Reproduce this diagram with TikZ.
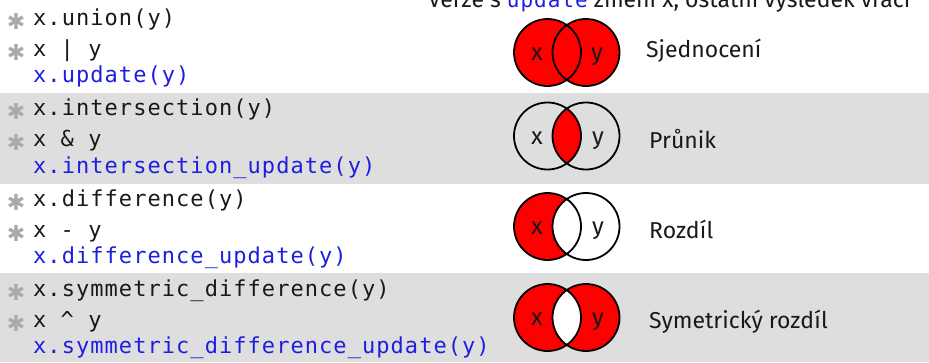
\documentclass[tikz,border=0pt]{standalone}
\usepackage{fontspec}
\setmainfont{Fira Sans}
\newfontfamily\codefont[LetterSpace=4.8]{DejaVu Sans Mono}
\newfontfamily\symfont{DejaVu Sans}
\definecolor{bandgray}{RGB}{222,222,222}
\definecolor{codeblue}{RGB}{30,30,225}
\definecolor{codeblack}{RGB}{25,25,25}
\definecolor{stargray}{RGB}{170,170,170}
\definecolor{vennred}{RGB}{255,0,0}
\begin{document}
\begin{tikzpicture}[x=1pt,y=-1pt,
  code/.style={anchor=base west, inner sep=0, font=\codefont\fontsize{22}{26}\selectfont, text=codeblack},
  upd/.style={code, text=codeblue},
  star/.style={anchor=center, inner sep=0, font=\symfont\bfseries\fontsize{22}{24}\selectfont, text=stargray},
  lab/.style={anchor=base west, inner sep=0, font=\fontsize{23}{28}\selectfont, text=codeblack},
  setlab/.style={anchor=base, inner sep=0, font=\fontsize{24}{28}\selectfont, text=codeblack},
  ring/.style={draw=black, line width=1.8pt}]
\useasboundingbox (0,0) rectangle (929,362);
\begin{scope}
\clip (0,0) rectangle (929,362);
\fill[white] (0,0) rectangle (929,362);
\fill[bandgray] (0,93) rectangle (929,184);
\fill[bandgray] (0,273) rectangle (929,362);

% title (cut off at top, as in the reference)
\node[lab] (title) at (428,7) {Verze s {\codefont\fontsize{21}{24}\selectfont\color{codeblue}update} změní x, ostatní výsledek vrací};

% row 1
\node[star] (s1a) at (16,21) {✱};
\node[star] (s1b) at (16,52) {✱};
\node[code] (c1a) at (33,25) {x.union(y)};
\node[code] (c1b) at (33,56) {x | y};
\node[upd]  (c1c) at (33,82.5) {x.update(y)};
% row 2
\node[star] (s2a) at (16,111.5) {✱};
\node[star] (s2b) at (16,142.5) {✱};
\node[code] (c2a) at (33,115.5) {x.intersection(y)};
\node[code] (c2b) at (33,146.5) {x \& y};
\node[upd]  (c2c) at (33,173) {x.intersection\_update(y)};
% row 3
\node[star] (s3a) at (16,202) {✱};
\node[star] (s3b) at (16,233) {✱};
\node[code] (c3a) at (33,206) {x.difference(y)};
\node[code] (c3b) at (33,237) {x - y};
\node[upd]  (c3c) at (33,263.5) {x.difference\_update(y)};
% row 4
\node[star] (s4a) at (16,292) {✱};
\node[star] (s4b) at (16,323) {✱};
\node[code] (c4a) at (33,296) {x.symmetric\_difference(y)};
\node[code] (c4b) at (33,327) {x \textasciicircum{} y};
\node[upd]  (c4c) at (33,353.5) {x.symmetric\_difference\_update(y)};

% Venn 1: union
\fill[vennred] (547.5,52.5) circle[radius=33.5] (586,52.5) circle[radius=33.5];
\draw[ring] (547.5,52.5) circle[radius=33.5] (586,52.5) circle[radius=33.5];
\node[setlab] (v1x) at (537,60) {x};
\node[setlab] (v1y) at (597,60) {y};
\node[lab] (l1) at (646,57) {Sjednocení};

% Venn 2: intersection
\begin{scope}
\clip (547.5,136) circle[radius=33.5];
\fill[vennred] (586,136) circle[radius=33.5];
\end{scope}
\draw[ring] (547.5,136) circle[radius=33.5] (586,136) circle[radius=33.5];
\node[setlab] (v2x) at (537,144.5) {x};
\node[setlab] (v2y) at (598,144.5) {y};
\node[lab] (l2) at (649,148) {Průnik};

% Venn 3: difference
\fill[vennred] (547.5,226.5) circle[radius=33.5];
\begin{scope}
\clip (547.5,226.5) circle[radius=33.5];
\fill[white] (586,226.5) circle[radius=33.5];
\end{scope}
\draw[ring] (547.5,226.5) circle[radius=33.5] (586,226.5) circle[radius=33.5];
\node[setlab] (v3x) at (537,234.5) {x};
\node[setlab] (v3y) at (598,234.5) {y};
\node[lab] (l3) at (649,238) {Rozdíl};

% Venn 4: symmetric difference
\fill[vennred] (547.5,317.5) circle[radius=33.5] (586,317.5) circle[radius=33.5];
\begin{scope}
\clip (547.5,317.5) circle[radius=33.5];
\fill[white] (586,317.5) circle[radius=33.5];
\end{scope}
\draw[ring] (547.5,317.5) circle[radius=33.5] (586,317.5) circle[radius=33.5];
\node[setlab] (v4x) at (537,325.5) {x};
\node[setlab] (v4y) at (598,325.5) {y};
\node[lab] (l4) at (649,328) {Symetrický rozdíl};
\end{scope}
\end{tikzpicture}
\end{document}
